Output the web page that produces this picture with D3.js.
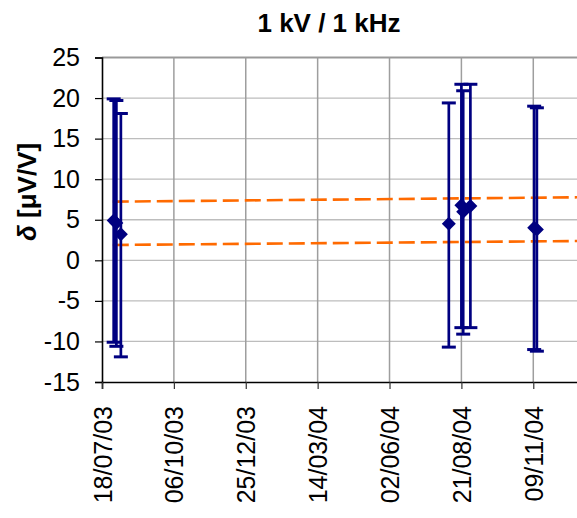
<!DOCTYPE html>
<html>
<head>
<meta charset="utf-8">
<script src="https://cdn.jsdelivr.net/npm/d3@7"></script>
<style>
  html, body { margin: 0; padding: 0; background: #fff; }
  svg { display: block; font-family: "Liberation Sans", Arial, sans-serif; }
</style>
</head>
<body>
<svg id="chart" width="577" height="518"></svg>
<script>
// ---- data ----
const title = "1 kV / 1 kHz";
const pointDates = ["31/07/03", "03/08/03", "08/08/03", "07/08/04", "21/08/04", "23/08/04", "31/08/04", "10/11/04", "13/11/04"];
const pointValues = [4.9, 4.6, 3.2, 4.5, 6.8, 6.0, 6.7, 4.0, 3.8];
const errTop = [19.9, 19.7, 18.1, 19.4, 21.7, 20.9, 21.7, 19.0, 18.8];
const errBottom = [-10.1, -10.6, -11.9, -10.7, -8.3, -9.1, -8.3, -11.0, -11.2];
const limitDates = ["30/07/03", "31/12/04"];
const upperLimit = [7.23, 7.77];
const lowerLimit = [1.89, 2.38];
const xTickLabels = ["18/07/03", "06/10/03", "25/12/03", "14/03/04", "02/06/04", "21/08/04", "09/11/04"];
const yTickValues = [-15, -10, -5, 0, 5, 10, 15, 20, 25];
const xDomain = ["18/07/03", "31/12/04"];
const yDomain = [-15, 25];

(function () {
const parse = d3.utcParse("%d/%m/%y");
const svg = d3.select("#chart");
const mLeft = 102, mRight = 580, mTop = 57.5, mBottom = 382;
const x = d3.scaleUtc().domain(xDomain.map(parse)).range([mLeft, mRight]);
const y = d3.scaleLinear().domain(yDomain).range([mBottom, mTop]);
const navy = "#000080", orange = "#ff6a00";
const font = "'Liberation Sans', Arial, sans-serif";

// horizontal gridlines
svg.append("g").selectAll("line")
  .data(yTickValues.filter(v => v > yDomain[0]))
  .join("line")
  .attr("x1", mLeft).attr("x2", mRight)
  .attr("y1", d => y(d)).attr("y2", d => y(d))
  .attr("stroke", d => d === yDomain[1] ? "#999" : "#bdbdbd")
  .attr("stroke-width", d => d === yDomain[1] ? 2 : 1.3);

// vertical gridlines
svg.append("g").selectAll("line")
  .data(xTickLabels.slice(1).map(parse))
  .join("line")
  .attr("x1", d => x(d)).attr("x2", d => x(d))
  .attr("y1", mTop).attr("y2", mBottom)
  .attr("stroke", "#9e9e9e").attr("stroke-width", 1.5);

// y axis
const yAxis = d3.axisLeft(y).tickValues(yTickValues).tickSize(7).tickPadding(15).tickFormat(d => String(d));
const gy = svg.append("g").attr("transform", `translate(${mLeft},0)`).call(yAxis);
gy.select(".domain").attr("stroke", "#000").attr("stroke-width", 1.6);
gy.selectAll(".tick line").attr("stroke", "#000").attr("stroke-width", 1.2);
gy.selectAll(".tick text").attr("font-size", 25).attr("fill", "#000").attr("font-family", font);

// x axis
const xAxis = d3.axisBottom(x).tickValues(xTickLabels.map(parse)).tickSize(7)
  .tickFormat(d3.utcFormat("%d/%m/%y"));
const gx = svg.append("g").attr("transform", `translate(0,${mBottom})`).call(xAxis);
gx.select(".domain").attr("stroke", "#000").attr("stroke-width", 1.6);
gx.selectAll(".tick line").attr("stroke", "#333").attr("stroke-width", 1.2);
gx.selectAll(".tick text")
  .attr("font-size", 25).attr("fill", "#000").attr("font-family", font)
  .attr("text-anchor", "end")
  .attr("transform", "rotate(-90)")
  .attr("x", -24).attr("y", 0).attr("dy", "0.36em");

// limit lines (orange dashed)
const lim = limitDates.map(parse);
[upperLimit, lowerLimit].forEach(arr => {
  svg.append("path")
    .datum(arr.map((v, i) => [lim[i], v]))
    .attr("d", d3.line().x(d => x(d[0])).y(d => y(d[1])))
    .attr("fill", "none").attr("stroke", orange)
    .attr("stroke-width", 2.6).attr("stroke-dasharray", "16,6");
});

// error bars and points
const pts = pointDates.map((d, i) => ({ t: parse(d), v: pointValues[i], hi: errTop[i], lo: errBottom[i] }));
const eg = svg.append("g");
pts.forEach(p => {
  const cx = x(p.t);
  eg.append("line").attr("x1", cx).attr("x2", cx).attr("y1", y(p.hi)).attr("y2", y(p.lo))
    .attr("stroke", navy).attr("stroke-width", 2.7);
  [p.hi, p.lo].forEach(v => {
    eg.append("line").attr("x1", cx - 7).attr("x2", cx + 7).attr("y1", y(v)).attr("y2", y(v))
      .attr("stroke", navy).attr("stroke-width", 3);
  });
});
const diamondType = { draw(ctx) { const r = 7; ctx.moveTo(0, -r); ctx.lineTo(r, 0); ctx.lineTo(0, r); ctx.lineTo(-r, 0); ctx.closePath(); } };
svg.append("g").selectAll("path")
  .data(pts).join("path")
  .attr("d", d3.symbol().type(diamondType))
  .attr("transform", d => `translate(${x(d.t)},${y(d.v)})`)
  .attr("fill", navy);

// title
svg.append("text").attr("x", 329).attr("y", 31.5).attr("text-anchor", "middle")
  .attr("font-size", 26).attr("font-weight", "bold").attr("font-family", font).text(title);

// y-axis label
const yl = svg.append("text").attr("transform", "translate(36,192) rotate(-90)")
  .attr("text-anchor", "middle").attr("font-size", 26).attr("font-weight", "bold").attr("font-family", font);
yl.append("tspan").attr("font-style", "italic").text("δ");
yl.append("tspan").text(" [μV/V]");
})();
</script>
</body>
</html>
